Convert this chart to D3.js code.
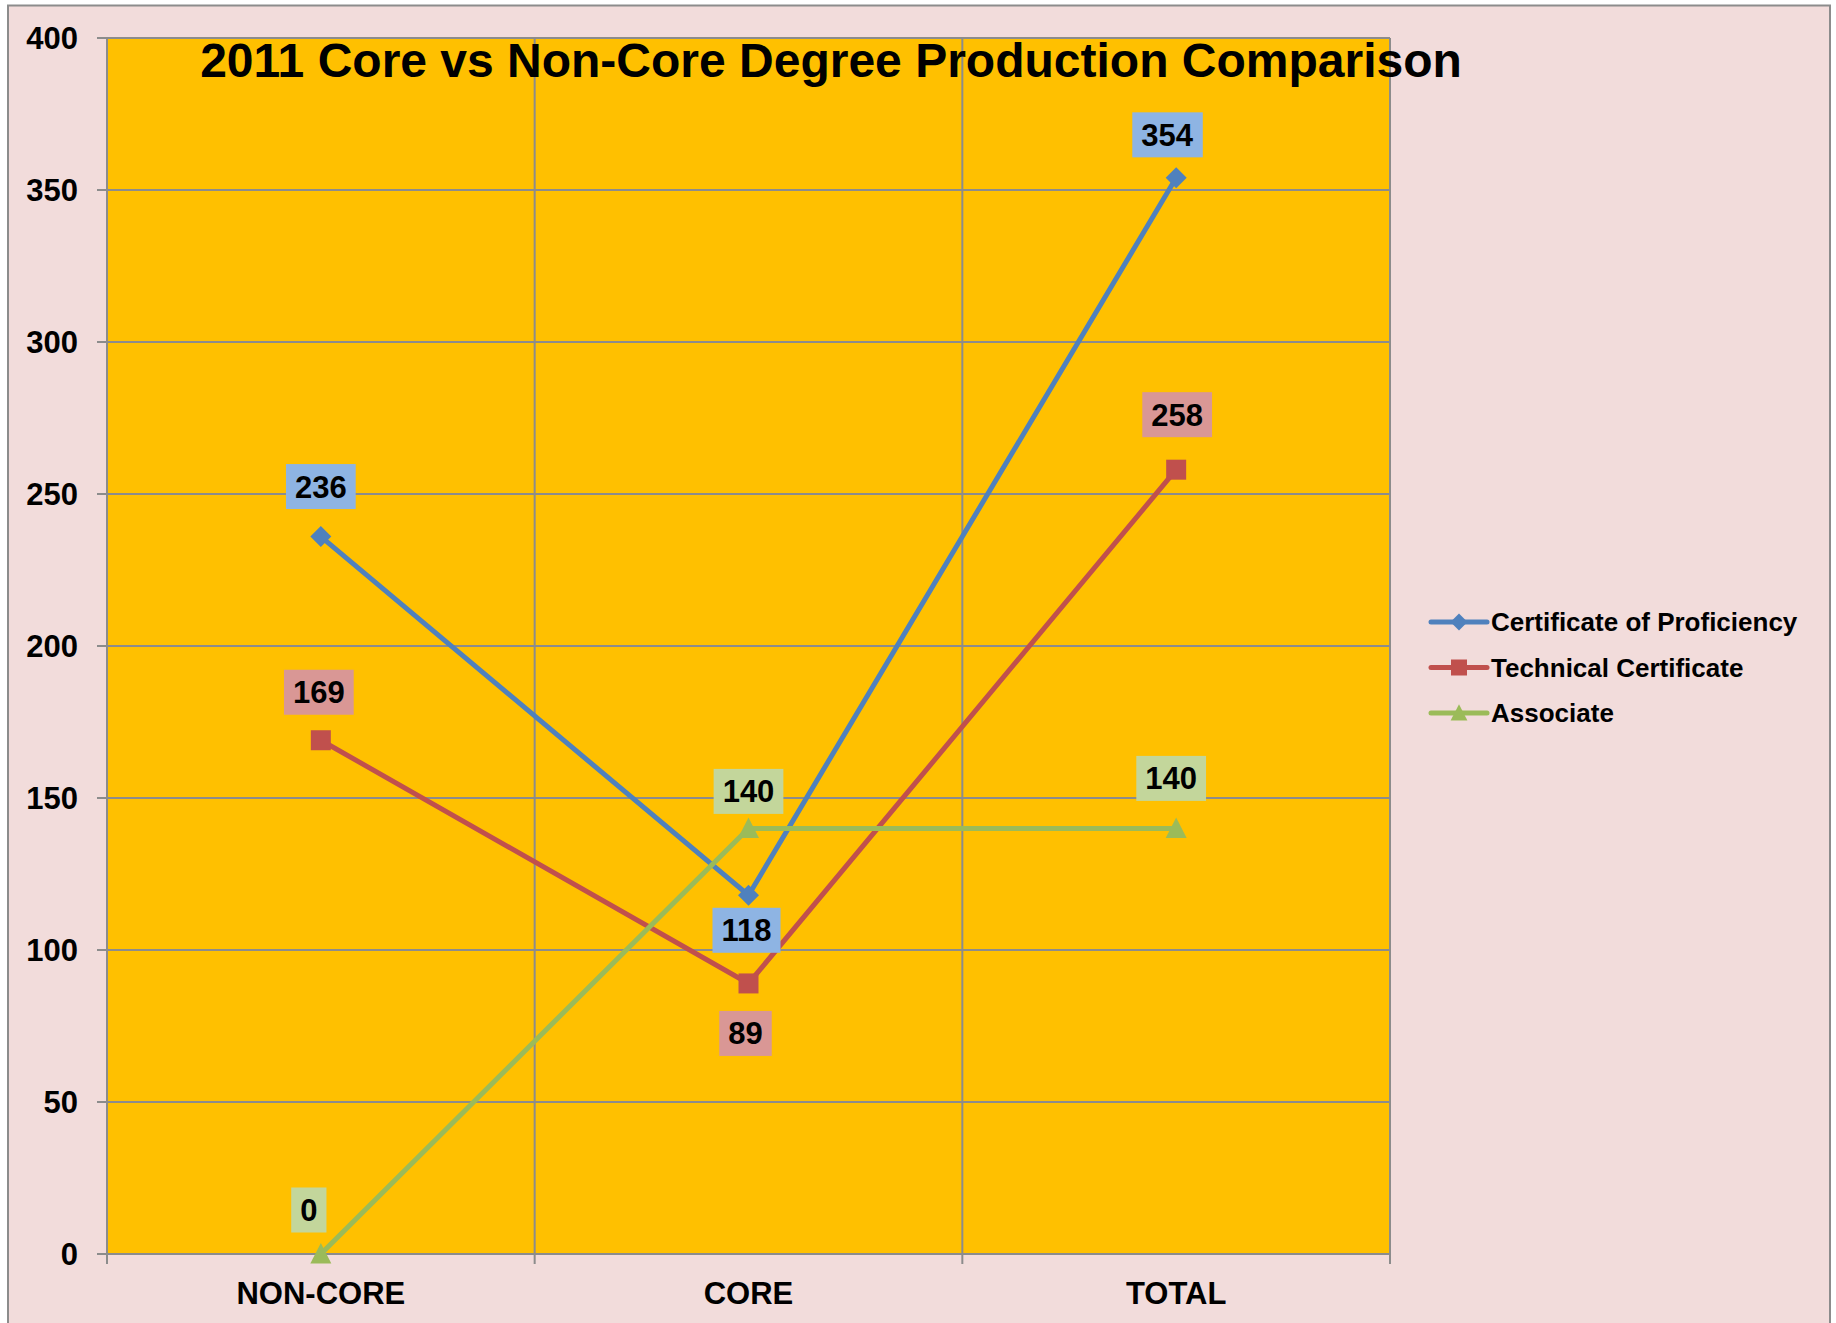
<!DOCTYPE html>
<meta charset="utf-8">
<style>
body {
    margin: 0;
    background: #fff;
}

text {
    font-family: Arial, "Liberation Sans", sans-serif;
    font-weight: bold;
    fill: #000;
}

.grid line {
    stroke: #8c8c8c;
    stroke-width: 2px;
}
</style>
<body>
    <script src="https://d3js.org/d3.v7.min.js"></script>
    <script>
        const width = 1836;
        const height = 1323;

        const title = "2011 Core vs Non-Core Degree Production Comparison";
        const categories = ["NON-CORE", "CORE", "TOTAL"];
        const seriesNames = ["Certificate of Proficiency", "Technical Certificate", "Associate"];
        const proficiency = [236, 118, 354];
        const technical = [169, 89, 258];
        const associate = [0, 140, 140];
        const yTicks = [0, 50, 100, 150, 200, 250, 300, 350, 400];

        // look of each series (line, marker, label box)
        const styles = [
            {line: "#4f81bd", box: "#8eb4e3", marker: "diamond"},
            {line: "#c0504d", box: "#d99795", marker: "square"},
            {line: "#9bbb59", box: "#c3d69b", marker: "triangle"}
        ];
        // hand placed data labels, offset from the point [dx, dy]
        const labelNudge = [
            [[0, -50], [-2, 35], [-9, -43]],
            [[-2, -48], [-3, 50], [1, -55]],
            [[-12, -44], [0, -37], [-5, -50]]
        ];

        const margin = {left: 107, top: 38, right: 1390, bottom: 1254};

        const svg = d3.select("body").append("svg")
            .attr("width", width)
            .attr("height", height);

        svg.append("rect")
            .attr("x", 8)
            .attr("y", 5.5)
            .attr("width", 1822)
            .attr("height", 1340)
            .attr("fill", "#f2dcdb")
            .attr("stroke", "#8c8c8c")
            .attr("stroke-width", 2);

        const x = d3.scaleBand()
            .domain(categories)
            .range([margin.left, margin.right])
            .padding(0);

        const y = d3.scaleLinear()
            .domain([0, 400])
            .range([margin.bottom, margin.top]);

        svg.append("rect")
            .attr("x", margin.left)
            .attr("y", margin.top)
            .attr("width", margin.right - margin.left)
            .attr("height", margin.bottom - margin.top)
            .attr("fill", "#ffc000");

        // horizontal gridlines + y ticks
        const grid = svg.append("g").attr("class", "grid");
        grid.selectAll(".hline")
            .data(yTicks)
            .enter()
            .append("line")
            .attr("x1", margin.left - 10)
            .attr("x2", margin.right)
            .attr("y1", function(d) { return y(d); })
            .attr("y2", function(d) { return y(d); });

        // vertical gridlines at category edges
        const edges = categories.map(function(c) { return x(c); }).concat([margin.right]);
        grid.selectAll(".vline")
            .data(edges)
            .enter()
            .append("line")
            .attr("x1", function(d) { return d; })
            .attr("x2", function(d) { return d; })
            .attr("y1", margin.top)
            .attr("y2", margin.bottom + 10);

        svg.selectAll(".ytick")
            .data(yTicks)
            .enter()
            .append("text")
            .attr("x", 78)
            .attr("y", function(d) { return y(d) + 11; })
            .attr("text-anchor", "end")
            .attr("font-size", 31)
            .text(function(d) { return d; });

        svg.selectAll(".xtick")
            .data(categories)
            .enter()
            .append("text")
            .attr("x", function(d) { return x(d) + x.bandwidth() / 2; })
            .attr("y", 1304)
            .attr("text-anchor", "middle")
            .attr("font-size", 31)
            .text(function(d) { return d; });

        svg.append("text")
            .attr("x", 831)
            .attr("y", 77)
            .attr("text-anchor", "middle")
            .attr("font-size", 48)
            .text(title);

        const allSeries = [proficiency, technical, associate];

        function markerPath(kind, s) {
            if (kind === "diamond") {
                return "M0," + (-s) + "L" + s + ",0L0," + s + "L" + (-s) + ",0Z";
            }
            if (kind === "square") {
                return "M" + (-s) + "," + (-s) + "h" + (2 * s) + "v" + (2 * s) + "h" + (-2 * s) + "Z";
            }
            return "M0," + (-s * 1.1) + "L" + (s * 1.05) + "," + (s * 0.95) + "L" + (-s * 1.05) + "," + (s * 0.95) + "Z";
        }

        const line = d3.line()
            .x(function(d, i) { return x(categories[i]) + x.bandwidth() / 2; })
            .y(function(d) { return y(d); });

        allSeries.forEach(function(values, si) {
            const st = styles[si];
            const g = svg.append("g");

            g.append("path")
                .datum(values)
                .attr("d", line)
                .attr("fill", "none")
                .attr("stroke", st.line)
                .attr("stroke-width", 5);

            g.selectAll(".mk")
                .data(values)
                .enter()
                .append("path")
                .attr("transform", function(d, i) {
                    return "translate(" + (x(categories[i]) + x.bandwidth() / 2) + "," + y(d) + ")";
                })
                .attr("d", markerPath(st.marker, st.marker === "diamond" ? 10.5 : 10))
                .attr("fill", st.line);
        });

        // data labels drawn on top
        allSeries.forEach(function(values, si) {
            const st = styles[si];
            const lbl = svg.append("g").selectAll("g")
                .data(values)
                .enter()
                .append("g")
                .attr("transform", function(d, i) {
                    const cx = x(categories[i]) + x.bandwidth() / 2 + labelNudge[si][i][0];
                    const cy = y(d) + labelNudge[si][i][1];
                    return "translate(" + cx + "," + cy + ")";
                });

            lbl.append("text")
                .attr("text-anchor", "middle")
                .attr("y", 11)
                .attr("font-size", 31)
                .text(function(d) { return d; });

            lbl.insert("rect", "text")
                .each(function() {
                    const t = d3.select(this.parentNode).select("text").node().getBBox();
                    d3.select(this)
                        .attr("x", t.x - 9)
                        .attr("y", -22.5)
                        .attr("width", t.width + 18)
                        .attr("height", 45)
                        .attr("fill", st.box);
                });
        });

        // legend
        const legend = svg.append("g");
        seriesNames.forEach(function(name, si) {
            const st = styles[si];
            const cy = 622 + si * 45.5;
            legend.append("line")
                .attr("x1", 1431)
                .attr("x2", 1487)
                .attr("y1", cy)
                .attr("y2", cy)
                .attr("stroke", st.line)
                .attr("stroke-width", 5)
                .attr("stroke-linecap", "round");
            legend.append("path")
                .attr("transform", "translate(1459," + cy + ")")
                .attr("d", markerPath(st.marker, st.marker === "diamond" ? 8.5 : 8))
                .attr("fill", st.line);
            legend.append("text")
                .attr("x", 1491)
                .attr("y", cy + 9)
                .attr("font-size", 26)
                .text(name);
        });
    </script>
</body>
